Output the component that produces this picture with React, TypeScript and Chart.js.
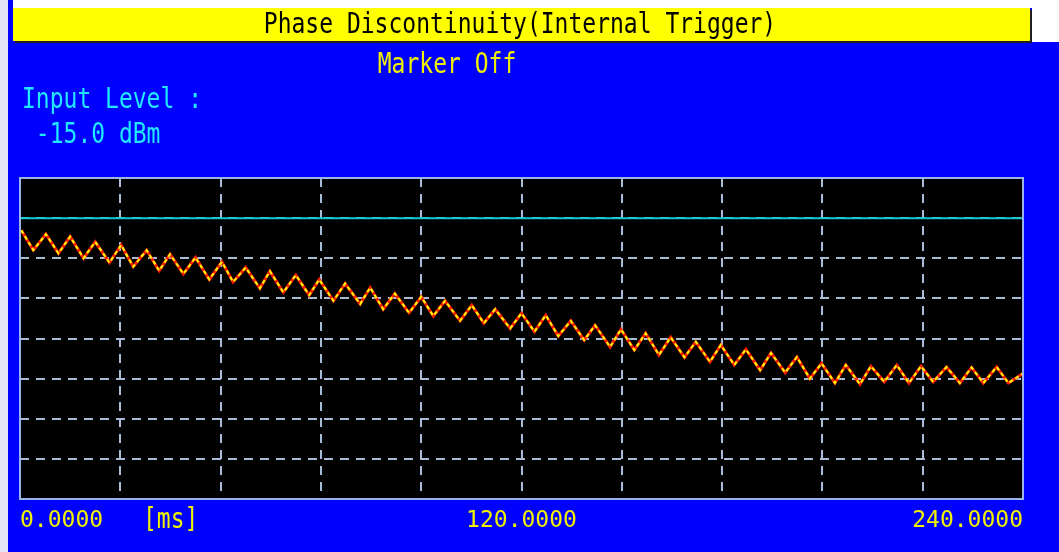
import React, { useEffect, useRef } from "react";
import { Chart, registerables } from "chart.js";

Chart.register(...registerables);

const timeMs = [0.3,3.2,6.2,9.2,12.0,15.2,18.0,21.4,24.2,27.1,30.3,33.3,35.9,39.1,42.0,45.3,48.3,51.0,54.0,57.4,59.8,63.0,66.0,69.2,71.6,75.0,77.8,81.4,83.8,86.9,89.7,93.1,96.0,98.9,101.7,105.3,108.1,111.0,113.7,117.3,120.0,123.1,125.8,128.8,131.8,135.0,137.6,141.2,143.8,147.0,149.7,152.9,155.7,159.0,161.7,165.1,167.7,170.9,173.7,177.1,179.7,183.1,185.9,189.0,191.8,195.0,197.6,201.0,203.6,206.8,209.8,212.7,215.6,218.5,221.7,224.9,227.7,230.5,233.7,236.5,240.0];
const phaseDeg = [27.0,22.0,26.0,21.2,25.4,20.0,24.1,18.9,23.3,17.9,22.0,16.9,21.0,16.1,20.2,14.7,19.1,14.1,17.7,12.5,16.8,11.5,15.8,10.8,14.7,9.4,13.7,8.6,12.7,7.3,11.2,6.4,10.4,5.6,9.4,4.4,8.3,3.8,7.3,2.5,6.3,1.7,5.8,0.6,4.4,-0.4,3.3,-2.1,2.3,-2.9,1.3,-4.1,0.3,-4.7,-0.8,-5.8,-1.6,-6.6,-2.7,-7.9,-3.6,-8.5,-4.6,-10.0,-6.2,-11.1,-6.6,-11.4,-6.9,-10.8,-6.6,-11.1,-6.9,-10.8,-7.1,-11.1,-7.2,-11.1,-7.1,-11.1,-8.7];
const limitX = [0, 240];
const limitY = [30, 30];
const xLabeled = [0, 120, 240];

const titleText = "Phase Discontinuity(Internal Trigger)";
const markerText = "Marker Off";
const inputLabel = "Input Level :";
const inputValue = " -15.0 dBm";
const unitText = "[ms]";

const MONO = "'DejaVu Sans Mono', monospace";

function drawText(ctx: CanvasRenderingContext2D, text: string, x: number, y: number, color: string, align: CanvasTextAlign) {
  ctx.save();
  ctx.translate(x, y);
  ctx.scale(1, 1.2);
  ctx.font = `23px ${MONO}`;
  ctx.fillStyle = color;
  ctx.textAlign = align;
  ctx.textBaseline = "middle";
  ctx.fillText(text, 0, 0);
  ctx.restore();
}

const backgroundPlugin = {
  id: "screenBg",
  beforeDraw(chart: any) {
    const ctx = chart.ctx as CanvasRenderingContext2D;
    const W = chart.width, H = chart.height;
    ctx.save();
    ctx.fillStyle = "#ffffff";
    ctx.fillRect(0, 0, W, H);
    ctx.fillStyle = "#e4e4f6";
    ctx.fillRect(0, 0, 8, H);
    ctx.fillStyle = "#0000ff";
    ctx.fillRect(8, 0, W - 8, H);
    ctx.fillStyle = "#ffffff";
    ctx.fillRect(13, 0, W - 13, 8);
    ctx.fillRect(1032, 0, W - 1032, 42);
    // title bar
    ctx.fillStyle = "#202020";
    ctx.fillRect(15, 10, 1017, 33);
    ctx.fillStyle = "#ffff00";
    ctx.fillRect(13, 8, 1017, 33);
    ctx.restore();
    drawText(ctx, titleText, 520, 26, "#000000", "center");
    drawText(ctx, markerText, 447, 66, "#f0f000", "center");
    drawText(ctx, inputLabel, 22, 101, "#20e8ff", "left");
    drawText(ctx, inputValue, 22, 136, "#20e8ff", "left");
    drawText(ctx, unitText, 143, 521, "#f0f000", "left");
    const a = chart.chartArea;
    ctx.save();
    ctx.fillStyle = "#000000";
    ctx.fillRect(a.left, a.top, a.right - a.left, a.bottom - a.top);
    ctx.restore();
  },
  afterDraw(chart: any) {
    const ctx = chart.ctx as CanvasRenderingContext2D;
    const a = chart.chartArea;
    ctx.save();
    ctx.strokeStyle = "#98b4e8";
    ctx.lineWidth = 2;
    ctx.strokeRect(a.left, a.top, a.right - a.left, a.bottom - a.top);
    ctx.restore();
  },
};

export default function App() {
  const ref = useRef<HTMLCanvasElement | null>(null);
  useEffect(() => {
    if (!ref.current) return;
    const trace = timeMs.map((t, i) => ({ x: t, y: phaseDeg[i] }));
    const limit = limitX.map((t, i) => ({ x: t, y: limitY[i] }));
    const chart = new Chart(ref.current, {
      type: "line",
      data: {
        datasets: [
          {
            label: "Limit",
            data: limit,
            borderColor: "#10c8d0",
            borderWidth: 2,
            pointRadius: 0,
            tension: 0,
            order: 3,
          },
          {
            label: "Phase (dots)",
            data: trace,
            borderColor: "#ff2000",
            borderWidth: 3,
            pointRadius: 0,
            tension: 0,
            order: 2,
          },
          {
            label: "Phase",
            data: trace,
            borderColor: "#ffff00",
            borderWidth: 2,
            borderDash: [4, 3],
            pointRadius: 0,
            tension: 0,
            order: 1,
          },
        ],
      },
      options: {
        animation: false,
        responsive: true,
        maintainAspectRatio: false,
        layout: { padding: { left: 20, right: 36, top: 178, bottom: 17 } },
        plugins: { legend: { display: false }, tooltip: { enabled: false } },
        scales: {
          x: {
            type: "linear",
            min: 0,
            max: 240,
            grid: { color: "#a8bcd8", lineWidth: 2, drawTicks: false },
            border: { display: false, dash: [9, 7] },
            ticks: {
              stepSize: 24,
              autoSkip: false,
              maxRotation: 0,
              align: "inner",
              padding: 8,
              color: "#f0f000",
              font: { family: MONO, size: 23 },
              callback: (v: any) => (xLabeled.includes(Number(v)) ? Number(v).toFixed(4) : ""),
            },
            afterFit: (s: any) => { s.height = 36; },
          },
          y: {
            type: "linear",
            min: -40,
            max: 40,
            grid: { color: "#a8bcd8", lineWidth: 2, drawTicks: false },
            border: { display: false, dash: [9, 7] },
            ticks: { stepSize: 10, display: false },
            afterFit: (s: any) => { s.width = 0; },
          },
        },
      },
      plugins: [backgroundPlugin],
    });
    return () => chart.destroy();
  }, []);
  return (
    <div style={{ position: "fixed", left: 0, top: 0, width: 1059, height: 552 }}>
      <canvas ref={ref} />
    </div>
  );
}
